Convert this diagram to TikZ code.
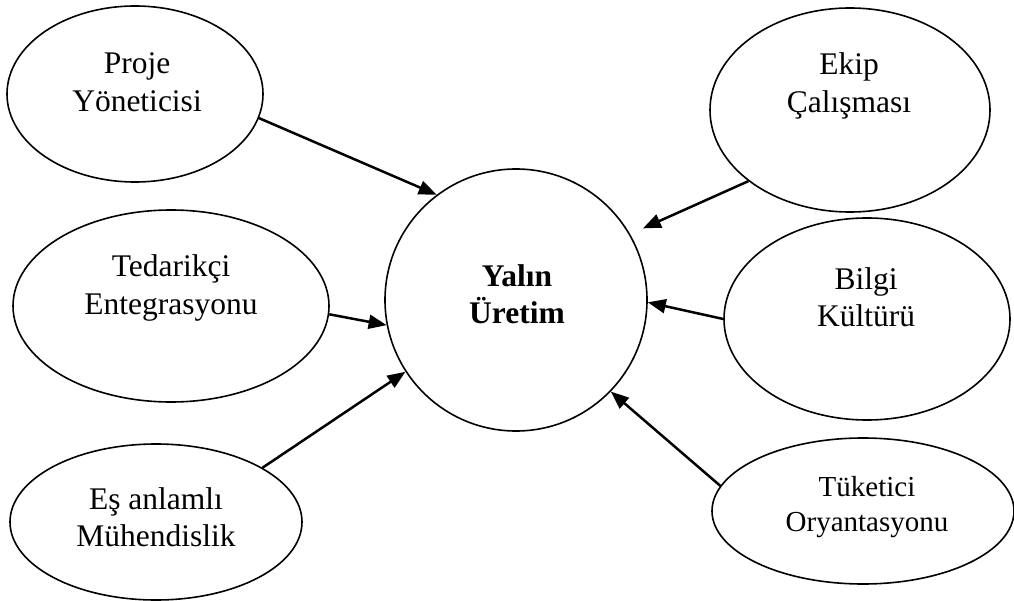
\documentclass[tikz,border=0pt]{standalone}
\usepackage{fontspec}
\setmainfont{Liberation Serif}
\usetikzlibrary{shapes.geometric,arrows.meta}
\begin{document}
\begin{tikzpicture}[x=1pt,y=-1pt,
  blob/.style={draw, line width=1.6pt, ellipse, inner sep=0pt},
  lbl/.style={align=center, font=\fontsize{31.5}{37.5}\selectfont},
  feed/.style={-{Triangle[length=18pt,width=14pt]}, line width=2.5pt}]
\useasboundingbox (0,0) rectangle (1014,601);

% central concept
\node[draw, line width=1.6pt, circle, inner sep=0pt, minimum size=262pt] (core) at (516,300) {};
\node[lbl, font=\fontsize{31.5}{37.5}\selectfont\bfseries] at (517,294) {Yalın\\Üretim};

% left factors
\node[blob, minimum width=256pt, minimum height=176pt] (proje) at (135,94) {};
\node[lbl] at (137,82) {Proje\\Yöneticisi};

\node[blob, minimum width=316pt, minimum height=192pt] (tedarik) at (171,306) {};
\node[lbl] at (171,288) {Tedarikçi\\Entegrasyonu};

\node[blob, minimum width=292pt, minimum height=156pt] (es) at (156,522) {};
\node[lbl] at (156,517) {Eş anlamlı\\Mühendislik};

% right factors
\node[blob, minimum width=280pt, minimum height=204pt] (ekip) at (850,110) {};
\node[lbl] at (849,86) {Ekip\\Çalışması};

\node[blob, minimum width=286pt, minimum height=202pt] (bilgi) at (867,319) {};
\node[lbl] at (866,297) {Bilgi\\Kültürü};

\node[blob, minimum width=302pt, minimum height=146pt] (tuketici) at (863,511) {};
\node[lbl, font=\fontsize{29}{35}\selectfont] at (867,507) {Tüketici\\Oryantasyonu};

% influences
\draw[feed] (proje.-11.75) -- (core.127);
\draw[feed] (tedarik.-3.6) -- (core.191);
\draw[feed] (es.27.9) -- (core.213.3);
\draw[feed, shorten >=14pt] (ekip.215.75) -- (core.30);
\draw[feed] (bilgi.180) -- (core.-1);
\draw[feed] (tuketici.170.1) -- (core.-44.1);
\end{tikzpicture}
\end{document}
